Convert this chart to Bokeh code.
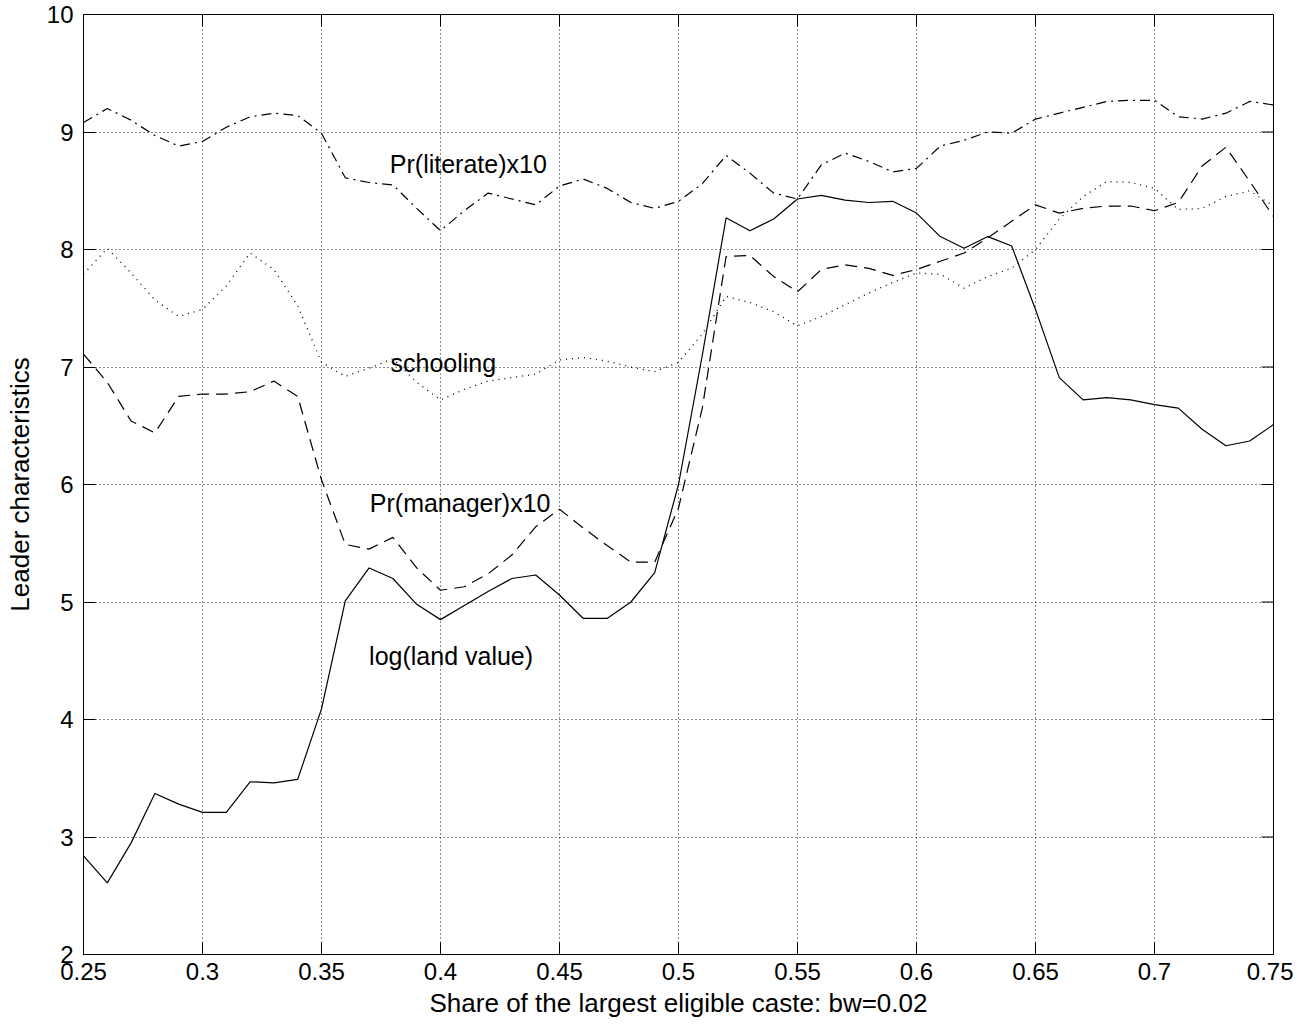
from bokeh.plotting import figure
from bokeh.models import Range1d, FixedTicker, Label
from bokeh.embed import file_html
from bokeh.resources import INLINE

# ---------------- data ----------------
share = [0.25, 0.26, 0.27, 0.28, 0.29, 0.30, 0.31, 0.32, 0.33, 0.34,
         0.35, 0.36, 0.37, 0.38, 0.39, 0.40, 0.41, 0.42, 0.43, 0.44,
         0.45, 0.46, 0.47, 0.48, 0.49, 0.50, 0.51, 0.52, 0.53, 0.54,
         0.55, 0.56, 0.57, 0.58, 0.59, 0.60, 0.61, 0.62, 0.63, 0.64,
         0.65, 0.66, 0.67, 0.68, 0.69, 0.70, 0.71, 0.72, 0.73, 0.74, 0.75]

literate_x10 = [9.08, 9.20, 9.10, 8.97, 8.88, 8.92, 9.04, 9.13, 9.16, 9.14,
                8.99, 8.61, 8.57, 8.55, 8.35, 8.16, 8.33, 8.48, 8.43, 8.38,
                8.54, 8.60, 8.52, 8.40, 8.35, 8.41, 8.56, 8.80, 8.65, 8.48,
                8.43, 8.72, 8.82, 8.75, 8.66, 8.69, 8.88, 8.93, 9.00, 8.99,
                9.11, 9.16, 9.21, 9.26, 9.27, 9.27, 9.13, 9.11, 9.16, 9.26, 9.23]

schooling = [7.79, 8.01, 7.80, 7.57, 7.43, 7.49, 7.69, 7.97, 7.83, 7.52,
             7.04, 6.92, 6.99, 7.07, 6.87, 6.72, 6.81, 6.88, 6.91, 6.94,
             7.06, 7.08, 7.05, 7.00, 6.96, 7.04, 7.28, 7.60, 7.55, 7.47,
             7.35, 7.43, 7.53, 7.63, 7.72, 7.80, 7.79, 7.67, 7.77, 7.84,
             8.00, 8.26, 8.45, 8.58, 8.57, 8.52, 8.34, 8.35, 8.45, 8.50, 8.37]

manager_x10 = [7.11, 6.87, 6.54, 6.44, 6.75, 6.77, 6.77, 6.79, 6.88, 6.75,
               6.04, 5.49, 5.45, 5.55, 5.29, 5.10, 5.13, 5.24, 5.40, 5.64,
               5.79, 5.63, 5.48, 5.34, 5.34, 5.80, 6.65, 7.94, 7.95, 7.77,
               7.64, 7.83, 7.87, 7.84, 7.78, 7.83, 7.90, 7.97, 8.10, 8.24,
               8.38, 8.31, 8.35, 8.37, 8.37, 8.33, 8.40, 8.71, 8.87, 8.58, 8.28]

log_land = [2.84, 2.61, 2.95, 3.37, 3.28, 3.21, 3.21, 3.47, 3.46, 3.49,
            4.09, 5.01, 5.29, 5.20, 4.98, 4.85, 4.97, 5.09, 5.20, 5.23,
            5.06, 4.86, 4.86, 5.00, 5.25, 6.00, 7.10, 8.27, 8.16, 8.26,
            8.43, 8.46, 8.42, 8.40, 8.41, 8.31, 8.11, 8.01, 8.11, 8.03,
            7.49, 6.91, 6.72, 6.74, 6.72, 6.68, 6.65, 6.47, 6.33, 6.37, 6.51]

x_ticks = [0.25, 0.3, 0.35, 0.4, 0.45, 0.5, 0.55, 0.6, 0.65, 0.7, 0.75]
x_tick_labels = ["0.25", "0.3", "0.35", "0.4", "0.45", "0.5",
                 "0.55", "0.6", "0.65", "0.7", "0.75"]
y_ticks = [2, 3, 4, 5, 6, 7, 8, 9, 10]
y_tick_labels = ["2", "3", "4", "5", "6", "7", "8", "9", "10"]

label_texts = ["Pr(literate)x10", "schooling", "Pr(manager)x10", "log(land value)"]
label_x = [0.3787, 0.3790, 0.3703, 0.3700]
label_y = [8.73, 7.03, 5.845, 4.54]

FONT = "Liberation Sans"
X0, X1, Y0, Y1 = 0.25, 0.75, 2, 10
FW, FH = 1190, 940
TICK = 12

# ---------------- figure ----------------
p = figure(frame_width=FW, frame_height=FH,
           x_range=Range1d(X0, X1), y_range=Range1d(Y0, Y1),
           output_backend="svg", toolbar_location=None,
           min_border_left=83, min_border_top=14, min_border_right=20,
           min_border_bottom=72,
           background_fill_color="white", border_fill_color="white")

p.outline_line_color = "black"
p.outline_line_width = 1

for ax, ticks, labels in ((p.xaxis[0], x_ticks, x_tick_labels),
                          (p.yaxis[0], y_ticks, y_tick_labels)):
    ax.ticker = FixedTicker(ticks=ticks)
    ax.major_label_overrides = {t: l for t, l in zip(ticks, labels)}
    ax.major_tick_in = TICK
    ax.major_tick_out = 0
    ax.minor_tick_line_color = None
    ax.major_tick_line_color = "black"
    ax.axis_line_color = "black"
    ax.major_label_text_font = FONT
    ax.major_label_text_font_size = "24px"
    ax.major_label_text_color = "black"
    ax.axis_label_text_font = FONT
    ax.axis_label_text_font_size = "26px"
    ax.axis_label_text_font_style = "normal"
    ax.axis_label_text_color = "black"

p.xaxis[0].axis_label = "Share of the largest eligible caste: bw=0.02"
p.xaxis[0].major_label_standoff = 8
p.xaxis[0].axis_label_standoff = 5
p.yaxis[0].axis_label = "Leader characteristics"
p.yaxis[0].major_label_standoff = 10
p.yaxis[0].axis_label_standoff = 9

for g, ticks in ((p.xgrid[0], x_ticks), (p.ygrid[0], y_ticks)):
    g.ticker = FixedTicker(ticks=ticks)
    g.grid_line_color = "black"
    g.grid_line_dash = "1 3"
    g.grid_line_width = 1
    g.grid_line_alpha = 0.9

# inward tick marks on the top and right edges (MATLAB box style)
ty = TICK * (Y1 - Y0) / FH
tx = TICK * (X1 - X0) / FW
p.segment(x0=x_ticks, y0=[Y1] * len(x_ticks), x1=x_ticks, y1=[Y1 - ty] * len(x_ticks),
          line_color="black", line_width=1)
p.segment(x0=[X1] * len(y_ticks), y0=y_ticks, x1=[X1 - tx] * len(y_ticks), y1=y_ticks,
          line_color="black", line_width=1)

# ---------------- series ----------------
p.line(share, literate_x10, line_color="black", line_width=1.2, line_dash="10 5 2 5")
p.line(share, schooling, line_color="black", line_width=1.3, line_dash="1 5")
p.line(share, manager_x10, line_color="black", line_width=1.2, line_dash="12 7")
p.line(share, log_land, line_color="black", line_width=1.2)

for t, lx, ly in zip(label_texts, label_x, label_y):
    p.add_layout(Label(x=lx, y=ly, text=t, text_font=FONT, text_font_size="25px",
                       text_color="black", text_baseline="alphabetic", text_align="left"))

open("out.html", "w").write(file_html(p, INLINE))
